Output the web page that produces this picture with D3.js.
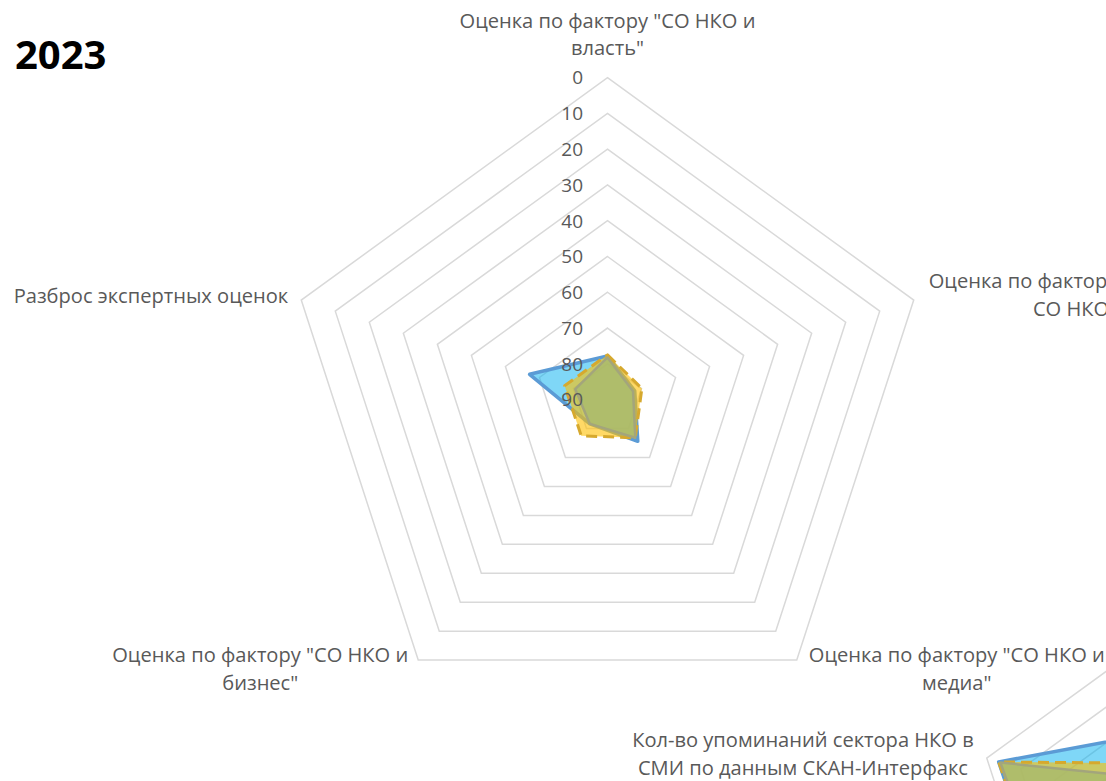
<!DOCTYPE html>
<html>
<head>
<meta charset="utf-8">
<script src="https://cdn.jsdelivr.net/npm/d3@7"></script>
<style>
  body { margin: 0; background: #fff; overflow: hidden; }
  text { font-family: "Open Sans", sans-serif; fill: #595959; }
</style>
</head>
<body>
<div id="chart"></div>
<script>
// axis labels, clockwise from the top
var categories = [
  ['Оценка по фактору "СО НКО и', 'власть"'],
  ['Оценка по фактору "Развитие', 'СО НКО"'],
  ['Оценка по фактору "СО НКО и', 'медиа"'],
  ['Оценка по фактору "СО НКО и', 'бизнес"'],
  ['Разброс экспертных оценок']
];
var tickValues = [0, 10, 20, 30, 40, 50, 60, 70, 80, 90];

// series values (scale reversed: 0 outside, 90 in the centre)
var seriesBlue = [77.8, 82, 75.6, 81.6, 67.1];
var seriesGold = [77.5, 79.9, 76.8, 77.5, 77.4];
var seriesOlive = [78.2, 82.5, 76.8, 81.6, 80.5];

// second chart, only its left corner is in the picture
var categories2 = [null, null, null, null,
  ['Кол-во упоминаний сектора НКО в', 'СМИ по данным СКАН-Интерфакс']];
var seriesBlue2 = [47.9, 70, 70, 5, 3.5];
var seriesGold2 = [64, 70, 70, 6, 3.5];
var seriesOlive2 = [72, 75, 75, 8, 4];

var W = 1106, H = 781;
var R = 322;

var svg = d3.select("#chart").append("svg")
  .attr("width", W).attr("height", H);

var rScale = d3.scaleLinear().domain([0, 90]).range([R, 0]);

var styles = [
  {fill: "#00b0f0", fo: 0.5, stroke: "#5b9bd5", sw: 3.5, dash: null},
  {fill: "#ffc000", fo: 0.6, stroke: "#d6a92e", sw: 3, dash: "11,6"},
  {fill: "#a6b86e", fo: 0.75, stroke: "#a3a57c", sw: 2.5, dash: null}
];

function drawRadar(cx, cy, cats, seriesList, showTicks) {
  var angle = d3.scaleLinear().domain([0, cats.length]).range([0, 2 * Math.PI]);
  var pt = (i, v) => [cx + rScale(v) * Math.sin(angle(i)), cy - rScale(v) * Math.cos(angle(i))];
  var g = svg.append("g");

  g.selectAll(".ring")
    .data(tickValues)
    .enter()
    .append("polygon")
    .attr("points", t => cats.map((c, i) => pt(i, t).join(",")).join(" "))
    .attr("fill", "none")
    .attr("stroke", "#d9d9d9")
    .attr("stroke-width", 1.5);

  g.selectAll(".series")
    .data(seriesList)
    .enter()
    .append("polygon")
    .attr("points", s => s.map((v, i) => pt(i, v).join(",")).join(" "))
    .attr("fill", (s, k) => styles[k].fill)
    .attr("fill-opacity", (s, k) => styles[k].fo)
    .attr("stroke", (s, k) => styles[k].stroke)
    .attr("stroke-width", (s, k) => styles[k].sw)
    .attr("stroke-dasharray", (s, k) => styles[k].dash)
    .attr("stroke-linejoin", "round");

  if (showTicks) {
    g.selectAll(".tick")
      .data(tickValues)
      .enter()
      .append("text")
      .attr("x", cx - 24.5)
      .attr("y", t => cy - rScale(t) + 6.8)
      .attr("text-anchor", "end")
      .style("font-size", "19px")
      .text(d => d);
  }

  var lineH = 27.5;
  g.selectAll(".cat")
    .data(cats.map((c, i) => ({lines: c, i: i})).filter(d => d.lines))
    .enter()
    .append("text")
    .style("font-size", "20.1px")
    .attr("text-anchor", "middle")
    .each(function(d) {
      var el = d3.select(this);
      d.lines.forEach(l => el.append("tspan").text(l));
      var maxW = d3.max(el.selectAll("tspan").nodes(), n => n.getComputedTextLength());
      var p = pt(d.i, 0), x, y;
      if (d.i === 0) { x = p[0]; y = p[1] - 50; }
      else if (d.i === 1) { x = p[0] + 15 + maxW / 2; y = p[1] - 12; }
      else if (d.i === 2) { x = p[0] + 12 + maxW / 2; y = p[1] + 2; }
      else if (d.i === 3) { x = p[0] - 10 - maxW / 2; y = p[1] + 2; }
      else { x = p[0] - 13 - maxW / 2; y = p[1] + 3 - (d.lines.length - 1) * 14; }
      el.selectAll("tspan")
        .attr("x", x)
        .attr("y", (t, k) => y + k * lineH);
    });
}

drawRadar(607.5, 399.6, categories, [seriesBlue, seriesGold, seriesOlive], true);
drawRadar(1293, 857.6, categories2, [seriesBlue2, seriesGold2, seriesOlive2], false);

// year title
svg.append("text")
  .attr("x", 15)
  .attr("y", 69)
  .style("font-size", "40px")
  .style("font-weight", "bold")
  .style("fill", "#000")
  .text("2023");
</script>
</body>
</html>
